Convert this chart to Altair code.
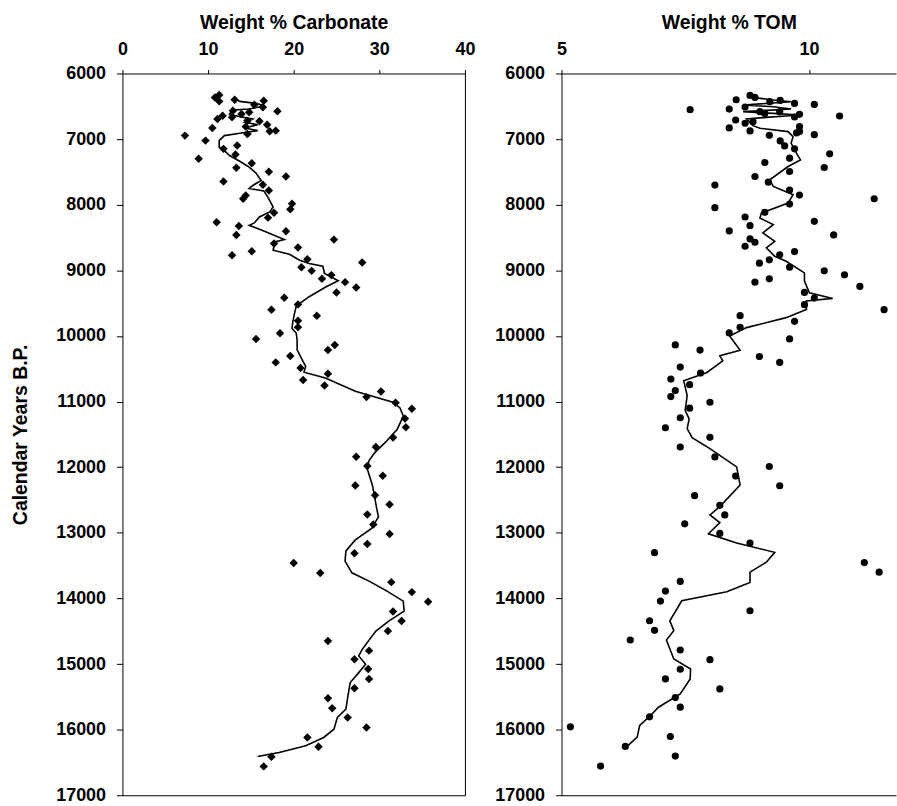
import altair as alt
import pandas as pd

# ---------------- data ----------------
carb_year = [6365, 6329, 6425, 6400, 6415, 6476, 6516, 6577, 6567, 6618, 6592, 6643, 6694, 6668,
             6729, 6719, 6780, 6810, 6871, 6881, 6830, 6922, 6947, 7023, 7099, 7149, 7235, 7301,
             7367, 7438, 7499, 7570, 7646, 7696, 7782, 7858, 7909, 7985, 8071, 8122, 8197, 8268,
             8324, 8461, 8405, 8532, 8592, 8653, 8770, 8709, 8830, 8952, 8881, 9008, 9073, 9129,
             9180, 9261, 9337, 9418, 9519, 9600, 9691, 9767, 9868, 9959, 10046, 10137, 10215,
             10307, 10403, 10489, 10575, 10670, 10756, 10847, 10932, 11018, 11109, 11260, 11391,
             11547, 11693, 11840, 11981, 12132, 12278, 12429, 12570, 12722, 12873, 13019, 13170,
             13311, 13460, 13612, 13752, 13904, 14051, 14198, 14345, 14497, 14649, 14796, 14928,
             15075, 15227, 15369, 15521, 15673, 15815, 15967, 16119, 16261, 16413, 16560]
carb_val = [10.8, 11.3, 11.3, 13.1, 16.5, 15.4, 16.4, 18.1, 12.9, 13.9, 14.8, 11.7, 11.1, 12.8,
            16.0, 14.6, 16.9, 14.4, 17.9, 17.2, 10.5, 14.6, 7.3, 9.7, 13.4, 11.8, 13.2, 8.9,
            15.1, 13.3, 17.1, 19.1, 11.8, 16.4, 17.1, 14.4, 14.1, 19.8, 19.6, 17.7, 17.0, 11.0,
            13.6, 13.3, 19.1, 24.7, 17.7, 20.5, 12.8, 15.1, 21.6, 20.9, 28.0, 22.1, 24.4, 23.3,
            26.0, 27.3, 25.0, 18.9, 20.5, 17.4, 22.7, 20.5, 20.5, 18.4, 15.6, 24.8, 24.0,
            19.6, 17.9, 20.8, 24.0, 21.1, 23.6, 30.2, 28.5, 31.9, 33.8, 33.0, 33.1,
            31.6, 29.6, 27.3, 28.6, 30.4, 27.2, 29.5, 31.2, 28.6, 29.3, 31.2, 28.6,
            27.1, 20.0, 23.1, 31.4, 33.8, 35.7, 31.6, 32.6, 31.0, 24.0, 28.8, 27.1,
            28.7, 28.8, 27.1, 24.0, 24.5, 26.3, 28.5, 21.6, 22.9, 17.4, 16.5]

carb_line_year = [6380, 6425, 6456, 6491, 6542, 6557, 6618, 6658, 6694, 6744, 6780, 6830, 6871,
                  6911, 6947, 7023, 7124, 7200, 7251, 7337, 7428, 7519, 7630, 7700, 7752, 7790,
                  7889, 8035, 8111, 8187, 8278, 8314, 8415, 8532, 8567, 8694, 8754, 8846, 8896,
                  8937, 9048, 9159, 9251, 9402, 9544, 9656, 9782, 9884, 9960, 10061, 10212,
                  10363, 10464, 10554, 10640, 10842, 11008, 11094, 11220, 11421, 11623, 11774,
                  11900, 12026, 12278, 12631, 12757, 12933, 13109, 13276, 13432, 13610, 13736,
                  13888, 14041, 14193, 14345, 14497, 14776, 14877, 15004, 15131, 15283, 15511,
                  15688, 15815, 15993, 16119, 16246, 16347, 16408]
carb_line_val = [13.1, 13.7, 15.6, 16.6, 14.8, 12.9, 12.5, 13.7, 15.2, 14.3, 15.8, 14.3, 15.8,
                 13.7, 11.9, 11.3, 11.3, 12.1, 12.5, 13.7, 14.8, 15.6, 16.2, 15.3, 14.8, 16.5,
                 17.0, 17.6, 17.2, 16.0, 15.4, 14.8, 16.8, 18.9, 17.8, 17.6, 19.5, 20.7, 21.8,
                 23.4, 23.6, 25.2, 23.8, 21.8, 20.3, 20.1, 19.9, 19.8, 20.3, 20.4, 20.4,
                 21.0, 21.4, 21.2, 23.7, 27.2, 31.5, 32.4, 32.8, 32.1, 30.7, 29.5,
                 28.8, 28.6, 29.2, 29.7, 29.9, 29.1, 27.2, 26.1, 26.0, 26.8, 28.8,
                 30.9, 32.8, 32.9, 31.1, 29.6, 28.0, 27.6, 28.4, 27.6, 26.6, 26.3,
                 26.1, 25.1, 24.7, 23.5, 21.4, 18.3, 15.8]

tom_year = [6334, 6365, 6400, 6430, 6410, 6456, 6471, 6511, 6542, 6552, 6582, 6608, 6582, 6623,
            6663, 6648, 6709, 6759, 6734, 6810, 6830, 6876, 6906, 6886, 6932, 6942, 7028, 7104,
            7149, 7225, 7291, 7357, 7433, 7494, 7570, 7656, 7701, 7777, 7853, 7909, 7990, 8045,
            8116, 8187, 8319, 8253, 8400, 8461, 8521, 8572, 8633, 8714, 8764, 8840, 8891, 8952,
            9007, 9068, 9129, 9180, 9245, 9337, 9423, 9524, 9600, 9691, 9777, 9868, 9954, 10045,
            10137, 10215, 10313, 10404, 10475, 10566, 10657, 10742, 10833, 10924, 11010, 11101,
            11247, 11399, 11545, 11692, 11843, 11990, 12136, 12283, 12434, 12581, 12727, 12863,
            13010, 13156, 13303, 13454, 13600, 13741, 13888, 14041, 14188, 14340, 14487, 14634,
            14786, 14933, 15080, 15227, 15379, 15511, 15658, 15805, 15957, 16104, 16256, 16403,
            16555]
tom_val = [8.81, 8.91, 8.53, 9.21, 9.42, 9.71, 10.11, 8.71, 8.39, 7.60, 9.01, 9.11, 9.41, 9.81,
           9.71, 10.62, 8.52, 8.71, 8.87, 9.81, 8.39, 8.81, 9.75, 9.81, 10.11, 9.20, 9.42, 9.51,
           9.71, 10.42, 9.61, 9.11, 10.31, 9.61, 8.91, 9.18, 8.10, 9.61, 9.81, 11.32, 9.61, 8.10,
           9.11, 8.71, 8.81, 10.11, 8.39, 10.50, 8.81, 8.91, 8.71, 9.71, 9.41, 9.20, 9.00, 9.61,
           10.31, 10.72, 9.20, 8.91, 11.03, 9.91, 10.11, 9.91, 11.52, 8.61, 9.71, 8.61, 8.39, 9.61,
           7.30, 7.80, 9.00, 9.41, 7.40, 7.81, 7.21, 7.59, 7.30, 7.21, 8.00, 7.59,
           7.40, 7.10, 8.00, 7.40, 8.10, 9.20, 8.52, 9.41, 7.69, 8.20, 8.30, 7.49,
           8.20, 8.81, 6.88, 11.12, 11.42, 7.40, 7.10, 7.00, 8.81, 6.78, 6.88, 6.39,
           7.40, 8.00, 7.40, 7.10, 8.20, 7.30, 7.40, 6.78, 5.18, 7.20, 6.29, 7.30,
           5.79]

tom_line_year = [6354, 6405, 6430, 6481, 6506, 6542, 6582, 6608, 6633, 6673, 6694, 6795, 6835,
                 6886, 6962, 7063, 7190, 7316, 7418, 7620, 7721, 7848, 7975, 8127, 8202, 8304,
                 8430, 8557, 8658, 8785, 8861, 8962, 9038, 9164, 9342, 9428, 9468, 9595, 9721,
                 9873, 10000, 10217, 10303, 10379, 10556, 10682, 10909, 11136, 11263, 11414,
                 11550, 11717, 11995, 12273, 12601, 12727, 12843, 13015, 13156, 13298, 13449,
                 13600, 13757, 13899, 14036, 14340, 14492, 14634, 14923, 15075, 15227, 15455,
                 15658, 15785, 15937, 16114, 16266]
tom_line_val = [8.77, 9.28, 9.64, 8.67, 9.28, 9.64, 8.67, 9.28, 9.81, 9.07, 8.74, 8.87, 9.01,
                9.58, 9.68, 9.64, 9.73, 9.83, 9.58, 9.21, 9.28, 9.68, 9.58, 9.04, 9.01, 9.28,
                9.07, 9.31, 9.14, 9.31, 9.54, 9.75, 9.91, 9.91, 10.01, 10.48, 9.95, 9.95, 9.54,
                8.74, 8.40, 8.61, 8.20, 8.26, 7.94, 7.47, 7.54, 7.50, 7.58, 7.54,
                7.64, 8.00, 8.54, 8.61, 8.20, 8.00, 8.20, 7.97, 8.54, 9.31, 9.14,
                8.81, 8.81, 8.34, 7.43, 7.19, 7.27, 7.12, 7.27, 7.61, 7.60, 7.40,
                6.96, 6.80, 6.58, 6.53, 6.31]

year_ticks = list(range(6000, 17001, 1000))
carb_ticks = [0, 10, 20, 30, 40]
tom_ticks = [5, 10]

# ---------------- chart ----------------
FONT = "Liberation Sans"
W_LEFT, W_RIGHT, H = 344, 336, 725

cdf = pd.DataFrame({"year": carb_year, "val": carb_val})
cline = pd.DataFrame({"year": carb_line_year, "val": carb_line_val})
tdf = pd.DataFrame({"year": tom_year, "val": tom_val})
tline = pd.DataFrame({"year": tom_line_year, "val": tom_line_val})

yscale = alt.Scale(domain=[6000, 17000], reverse=True, nice=False, zero=False)

top_axis_common = dict(orient="top", tickSize=4, labelPadding=11, titlePadding=8,
                       labelFlush=False, labelOverlap=False, grid=False)
left_y_common = dict(values=year_ticks, format="d", tickSize=6, labelPadding=11,
                     labelFlush=False, labelOverlap=False, grid=False)
bare = dict(labels=False, ticks=False, title=None, grid=False)

carb_scale = alt.Scale(domain=[0, 40], nice=False, zero=False)
left_pts = alt.Chart(cdf).mark_point(shape="diamond", filled=True, size=72,
                                     color="black", opacity=1).encode(
    x=alt.X("val:Q", scale=carb_scale,
            axis=alt.Axis(values=carb_ticks, title="Weight % Carbonate", **top_axis_common)),
    y=alt.Y("year:Q", scale=yscale,
            axis=alt.Axis(title="Calendar Years B.P.", titlePadding=25, **left_y_common)),
)
left_line = alt.Chart(cline).mark_line(color="black", strokeWidth=1.6).encode(
    x=alt.X("val:Q", scale=carb_scale, axis=alt.Axis(orient="bottom", **bare)),
    y=alt.Y("year:Q", scale=yscale, axis=alt.Axis(orient="right", **bare)),
    order="year:Q",
)
left = alt.layer(left_pts, left_line).resolve_axis(x="independent", y="independent").properties(
    width=W_LEFT, height=H)

tom_max = 5 + 5 * W_RIGHT / 248.5
tom_scale = alt.Scale(domain=[5, tom_max], nice=False, zero=False)
right_pts = alt.Chart(tdf).mark_circle(size=52, color="black", opacity=1).encode(
    x=alt.X("val:Q", scale=tom_scale,
            axis=alt.Axis(values=tom_ticks, title="Weight % TOM", **top_axis_common)),
    y=alt.Y("year:Q", scale=yscale, axis=alt.Axis(title=None, **left_y_common)),
)
right_line = alt.Chart(tline).mark_line(color="black", strokeWidth=1.6).encode(
    x=alt.X("val:Q", scale=tom_scale, axis=alt.Axis(orient="bottom", **bare)),
    y=alt.Y("year:Q", scale=yscale),
    order="year:Q",
)
right = alt.layer(right_pts, right_line).resolve_axis(x="independent").properties(
    width=W_RIGHT, height=H)

chart = alt.hconcat(left, right, spacing=97, bounds="flush").properties(
    padding={"left": 10, "top": 10, "right": 0, "bottom": 4},
    background="white",
).configure_view(stroke="transparent").configure_axis(
    labelFont=FONT, titleFont=FONT, labelFontSize=18, titleFontSize=19.5,
    labelFontWeight="bold", titleFontWeight="bold", labelColor="black",
    titleColor="black", domainColor="black", tickColor="black",
    domainWidth=1, tickWidth=1,
)

chart.save("out.html", embed_options={"renderer": "svg", "actions": False})
